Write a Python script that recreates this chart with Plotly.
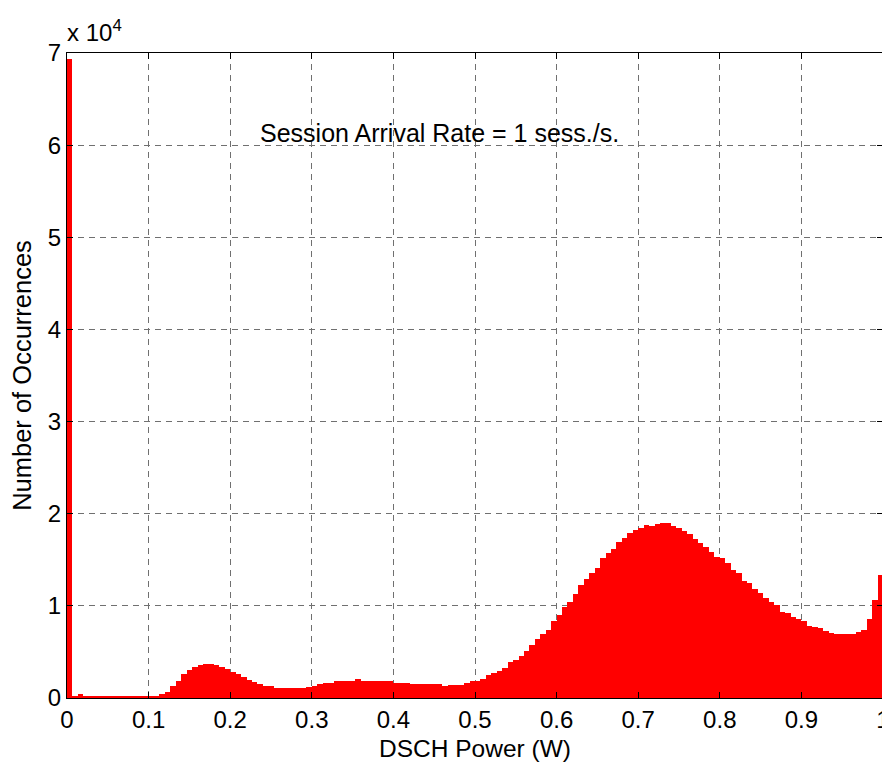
import plotly.graph_objects as go

# Histogram of DSCH power: 150 equal bins over [0, 1]
n_bins = 150
bin_left = [k / n_bins for k in range(n_bins)]
counts = [
    69400, 120, 400, 230, 220, 220, 220, 220, 220, 220,
    220, 220, 220, 220, 230, 230, 260, 420, 700, 1300,
    1880, 2640, 3040, 3330, 3550, 3690, 3690, 3530, 3330, 3100,
    2860, 2570, 2280, 1970, 1760, 1470, 1300, 1250, 1080, 1050,
    1050, 1050, 1050, 1060, 1230, 1250, 1560, 1600, 1610, 1850,
    1850, 1850, 1860, 2050, 1860, 1850, 1850, 1850, 1850, 1840,
    1660, 1660, 1650, 1500, 1500, 1500, 1500, 1490, 1500, 1320,
    1440, 1440, 1450, 1650, 1860, 1880, 2060, 2480, 2680, 2910,
    3270, 3910, 4120, 4560, 5120, 5710, 6370, 6940, 7380, 8370,
    9010, 9830, 10380, 11280, 12240, 12880, 13530, 14070, 15160, 15770,
    16130, 16960, 17360, 17940, 18230, 18410, 18810, 18660, 18880, 19030,
    19030, 18660, 18410, 18160, 17800, 17220, 16780, 16350, 15880, 15340,
    15160, 14690, 13890, 13530, 12730, 12510, 11880, 11360, 10890, 10450,
    10090, 9370, 9190, 8830, 8540, 8390, 7810, 7740, 7560, 7310,
    7090, 6940, 6940, 6940, 6940, 7160, 7340, 8570, 10630, 13350,
]

x_tickvals = [0, 0.1, 0.2, 0.3, 0.4, 0.5, 0.6, 0.7, 0.8, 0.9, 1]
x_ticktext = ["0", "0.1", "0.2", "0.3", "0.4", "0.5", "0.6", "0.7", "0.8", "0.9", "1"]
y_tickvals = [0, 10000, 20000, 30000, 40000, 50000, 60000, 70000]
y_ticktext = ["0", "1", "2", "3", "4", "5", "6", "7"]

x_title = "DSCH Power (W)"
y_title = "Number of Occurrences"
note_text = "Session Arrival Rate = 1 sess./s."
exp_text = "x 10<sup>4</sup>"

FONT = "Liberation Sans, Arial, Helvetica, sans-serif"
FS = 24

centers = [b + 0.5 / n_bins for b in bin_left]

fig = go.Figure()
fig.add_trace(go.Bar(
    x=centers, y=counts, width=1 / n_bins,
    marker=dict(color="#ff0000", line=dict(width=0)),
    hoverinfo="x+y", showlegend=False,
))

axis_common = dict(
    showline=True, linecolor="black", linewidth=1, mirror="ticks",
    ticks="inside", ticklen=6, tickcolor="black", tickwidth=1,
    showgrid=True, gridcolor="#707070", gridwidth=1, griddash="6px,5px",
    zeroline=False, tickfont=dict(family=FONT, size=FS, color="black"),
)

fig.update_xaxes(range=[0, 1], tickvals=x_tickvals, ticktext=x_ticktext,
                 title=dict(text=x_title, font=dict(family=FONT, size=24.5, color="black"), standoff=8),
                 **axis_common)
fig.update_yaxes(range=[0, 70000], tickvals=y_tickvals, ticktext=y_ticktext,
                 title=dict(text=y_title, font=dict(family=FONT, size=25.5, color="black"), standoff=12),
                 **axis_common)

fig.add_annotation(x=0.234, y=61300, xref="x", yref="y", text=note_text,
                   showarrow=False, xanchor="left", yanchor="middle",
                   font=dict(family=FONT, size=25, color="black"))
fig.add_annotation(x=-0.003, y=1.008, xref="paper", yref="paper", text=exp_text,
                   showarrow=False, xanchor="left", yanchor="bottom",
                   font=dict(family=FONT, size=FS, color="black"))

# page body adds an 8px offset; figure is sized so the plot area lands where the reference has it
fig.update_layout(
    width=882, height=757,
    margin=dict(l=59, r=7, t=45, b=67, autoexpand=False),
    plot_bgcolor="white", paper_bgcolor="white",
    bargap=0, font=dict(family=FONT, size=FS, color="black"),
)

fig.write_html("out.html")
